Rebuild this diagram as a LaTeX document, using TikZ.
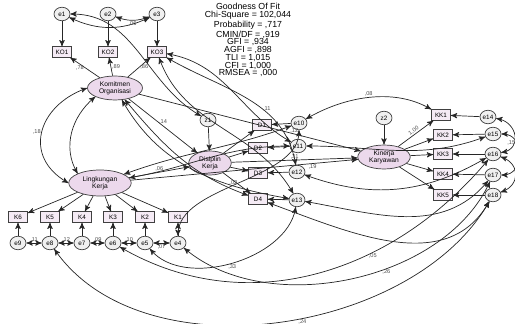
\documentclass[tikz,border=0pt]{standalone}
\usepackage{fontspec}
\setmainfont{Liberation Sans}
\usetikzlibrary{arrows, shapes}
\tikzset{
		obs/.style={draw=black!75, fill=violet!8, rectangle, minimum width=0.38cm, minimum height=0.21cm, inner sep=0.5pt, font=\fontsize{3.6}{4}\selectfont},
		err/.style={draw=black!75, fill=black!6, ellipse, minimum width=0.32cm, minimum height=0.27cm, inner sep=0pt, font=\fontsize{3.6}{4}\selectfont},
		lat/.style={draw=black!75, fill=violet!15, ellipse, align=center, inner sep=0pt, font=\fontsize{3.8}{4.2}\selectfont},
		est/.style={font=\fontsize{3.2}{3.5}\selectfont, text=black!70, inner sep=0.5pt}
	}

\begin{document}
\begin{tikzpicture}[x=0.02cm, y=-0.02cm, >=stealth', line width=0.4pt, draw=black!85]
				\useasboundingbox (0,0) rectangle (515,324);

				% fit
				\node[align=center, font=\fontsize{5}{4.4}\selectfont] (fit) at (248,40) {Goodness Of Fit\\Chi-Square = 102,044\\Probability = ,717\\CMIN/DF = ,919\\GFI = ,934\\AGFI = ,898\\TLI = 1,015\\CFI = 1,000\\RMSEA = ,000};

				% komitmen
				\node[err] (e1) at (62,14)  {e1};
				\node[err] (e2) at (108,14) {e2};
				\node[err] (e3) at (157,14) {e3};
				\node[obs] (ko1) at (62,52)  {KO1};
				\node[obs] (ko2) at (108,52) {KO2};
				\node[obs] (ko3) at (157,52) {KO3};
				\node[lat, minimum width=1.1cm, minimum height=0.48cm] (kom) at (115,88) {Komitmen\\Organisasi};

				% lingkungan
				\node[lat, minimum width=1.25cm, minimum height=0.52cm] (lk) at (100,183) {Lingkungan\\Kerja};
				\node[obs] (k6) at (18,217)  {K6};
				\node[obs] (k5) at (50,217)  {K5};
				\node[obs] (k4) at (82,217)  {K4};
				\node[obs] (k3) at (113,217) {K3};
				\node[obs] (k2) at (145,217) {K2};
				\node[obs] (k1) at (178,217) {K1};
				\node[err] (e9) at (18,243)  {e9};
				\node[err] (e8) at (50,243)  {e8};
				\node[err] (e7) at (82,243)  {e7};
				\node[err] (e6) at (113,243) {e6};
				\node[err] (e5) at (145,243) {e5};
				\node[err] (e4) at (178,243) {e4};

				% disiplin
				\node[err] (z1) at (208,120) {z1};
				\node[lat, minimum width=0.85cm, minimum height=0.48cm] (dk) at (210,163) {Disiplin\\Kerja};
				\node[obs] (d1) at (262,125) {D1};
				\node[obs] (d2) at (258,148) {D2};
				\node[obs] (d3) at (258,173) {D3};
				\node[obs] (d4) at (258,199) {D4};
				\node[err] (e10) at (299,123) {e10};
				\node[err] (e11) at (298,146) {e11};
				\node[err] (e12) at (297,172) {e12};
				\node[err] (e13) at (297,200) {e13};

				% kinerja
				\node[err] (z2) at (384,118) {z2};
				\node[lat, minimum width=1.05cm, minimum height=0.48cm] (kk) at (384,157) {Kinerja\\Karyawan};
				\node[obs] (y1) at (441,115) {KK1};
				\node[obs] (y2) at (443,135) {KK2};
				\node[obs] (y3) at (443,154) {KK3};
				\node[obs] (y4) at (443,174) {KK4};
				\node[obs] (y5) at (443,195) {KK5};
				\node[err] (e14) at (488,117) {e14};
				\node[err] (e15) at (493,134) {e15};
				\node[err] (e16) at (493,154) {e16};
				\node[err] (e17) at (493,175) {e17};
				\node[err] (e18) at (493,195) {e18};

				% loadings
				\path[->] (kom) edge node[est, left]  {,78} (ko1);
				\path[->] (kom) edge node[est, right] {,89} (ko2);
				\path[->] (kom) edge node[est, right] {,86} (ko3);
				\path[->] (e1) edge (ko1);
				\path[->] (e2) edge (ko2);
				\path[->] (e3) edge (ko3);
				\foreach \k in {1,...,6}
					{\path[->] (lk) edge (k\k);}
				\path[->] (e9) edge (k6);
				\path[->] (e8) edge (k5);
				\path[->] (e7) edge (k4);
				\path[->] (e6) edge (k3);
				\path[->] (e5) edge (k2);
				\path[->] (e4) edge (k1);
				\path[->] (dk) edge (d1);
				\path[->] (dk) edge (d2);
				\path[->] (dk) edge (d3);
				\path[->] (dk) edge (d4);
				\path[->] (e10) edge (d1);
				\path[->] (e11) edge (d2);
				\path[->] (e12) edge (d3);
				\path[->] (e13) edge (d4);
				\path[->] (kk) edge node[est, above, sloped] {1,00} (y1);
				\path[->] (kk) edge (y2);
				\path[->] (kk) edge (y3);
				\path[->] (kk) edge (y4);
				\path[->] (kk) edge (y5);
				\path[->] (e14) edge (y1);
				\path[->] (e15) edge (y2);
				\path[->] (e16) edge (y3);
				\path[->] (e17) edge (y4);
				\path[->] (e18) edge (y5);

				% structural
				\path[->] (z1) edge (dk);
				\path[->] (z2) edge (kk);
				\path[->] (kom) edge node[est, above] {,14} (dk);
				\path[->] (lk) edge node[est, above] {,06} (dk);
				\path[->] (kom) edge node[est, above, pos=0.7] {,12} (kk);
				\path[->] (lk) edge node[est, below, pos=0.8] {,19} (kk);
				\path[->] (dk) edge node[est, above, pos=0.5] {,31} (kk);

				% covariances
				\path[<->] (kom.west) edge [out=200, in=150, looseness=1.4] node[est, left] {,18} (lk.west);
				\path[<->] (kom.south west) edge [out=220, in=120] (lk.north west);
				\path[<->] (e1) edge [bend right=25] (e3);
				\path[<->] (e1) edge [out=0, in=150] (z1);
				\path[<->] (e2) edge [bend right=20] node[est, below] {,06} (e3);
				\path[<->] (ko3) edge [out=-30, in=100] node[est, right, pos=0.6] {,11} (e12);
				\path[<->] (ko3) edge [out=-70, in=120] (e13);
				\path[<->] (ko3) edge [out=-10, in=150] (e11);
				\path[<->] (kom) edge [out=-60, in=170] (e13);
				\path[<->] (kom) edge [out=-50, in=160] (d4);
				\path[<->] (lk) edge [out=20, in=200] (e10);
				\path[<->] (lk) edge [out=10, in=180] (e11);
				\path[<->] (e10) edge [out=30, in=150, looseness=0.9] node[est, above] {,08} (y1);
				\path[<->] (e11) edge [out=0, in=200] (e15);
				\path[<->] (e12) edge [out=-20, in=210] (e16);
				\path[<->] (e13) edge [out=-10, in=230] (e17);
				\path[<->] (d4) edge [out=-20, in=240] (e18);
				\path[<->] (e14) edge [out=-10, in=10, looseness=1.6] (e16);
				\path[<->] (e15) edge [out=0, in=0, looseness=1.5] node[est, left, pos=0.3] {,15} (e17);
				\path[<->] (e16) edge [out=-20, in=20, looseness=1.5] (e18);
				\path[<->] (e8) edge [out=-55, in=240, looseness=0.9] node[est, below, pos=0.55] {,24} (e18);
				\path[<->] (e4) edge [out=-40, in=245, looseness=0.9] node[est, below, pos=0.6] {,26} (e17);
				\path[<->] (e5) edge [out=-50, in=-100, looseness=0.9] node[est, below, pos=0.5] {,33} (e13);
				\path[<->] (e6) edge [out=-30, in=230] node[est, below, pos=0.65] {,05} (e16);
				\path[<->] (e4) edge [out=90, in=-90, looseness=0.8] node[est, left, pos=0.5] {,02} (e10);
				\path[<->] (e5) edge node[est, below] {,07} (e4);
				\path[<->] (e9) edge node[est, above] {,11} (e8);
				\path[<->] (e8) edge node[est, above] {,12} (e7);
				\path[<->] (e7) edge node[est, above] {,09} (e6);
				\path[<->] (e6) edge node[est, above] {,10} (e5);
			\end{tikzpicture}
\end{document}
